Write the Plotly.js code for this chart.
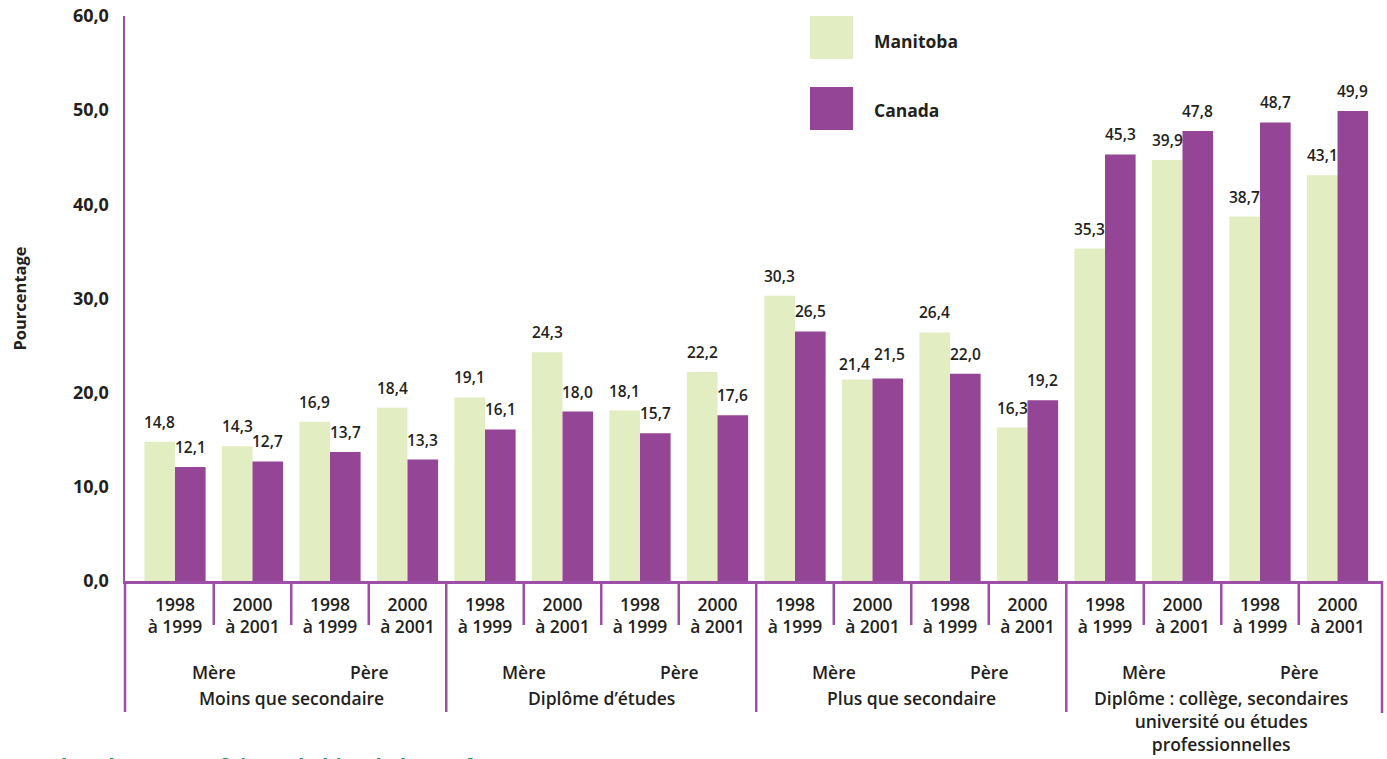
<!DOCTYPE html>
<html>
<head>
<meta charset="utf-8">
<script src="https://cdn.plot.ly/plotly-3.0.1.min.js"></script>
<style>html,body{margin:0;padding:0;background:#fff;}#chart{width:1387px;height:759px;}</style>
</head>
<body>
<div id="chart"></div>
<script>
// ---- data ----
const periods = ["1998<br>à 1999", "2000<br>à 2001", "1998<br>à 1999", "2000<br>à 2001",
                 "1998<br>à 1999", "2000<br>à 2001", "1998<br>à 1999", "2000<br>à 2001",
                 "1998<br>à 1999", "2000<br>à 2001", "1998<br>à 1999", "2000<br>à 2001",
                 "1998<br>à 1999", "2000<br>à 2001", "1998<br>à 1999", "2000<br>à 2001"];
const parents = ["Mère", "Père"];
const groups = ["Moins que secondaire", "Diplôme d’études", "Plus que secondaire",
                "Diplôme : collège, secondaires<br>université ou études<br>professionnelles"];
const manitoba = [14.8, 14.3, 16.9, 18.4, 19.5, 24.3, 18.1, 22.2, 30.3, 21.4, 26.4, 16.3, 35.3, 44.7, 38.7, 43.1];
const manitobaLabels = ["14,8", "14,3", "16,9", "18,4", "19,1", "24,3", "18,1", "22,2", "30,3", "21,4", "26,4", "16,3", "35,3", "39,9", "38,7", "43,1"];
const canada = [12.1, 12.7, 13.7, 12.9, 16.1, 18.0, 15.7, 17.6, 26.5, 21.5, 22.0, 19.2, 45.3, 47.8, 48.7, 49.9];
const canadaLabels = ["12,1", "12,7", "13,7", "13,3", "16,1", "18,0", "15,7", "17,6", "26,5", "21,5", "22,0", "19,2", "45,3", "47,8", "48,7", "49,9"];
const yTicks = [0, 10, 20, 30, 40, 50, 60];
const yTickText = ["0,0", "10,0", "20,0", "30,0", "40,0", "50,0", "60,0"];
const seriesNames = ["Manitoba", "Canada"];
const footText = "Nombre de parents faisant l’objet de l’enquête";

// ---- style ----
const GREEN = "#e3edc2", PURPLE = "#954595", LINE = "#9d4fa8", TXT = "#231f20";
const FONT = "Open Sans, sans-serif";
const X0 = -0.645, X1 = 15.574;
const BARGAP = 0.21;
const half = (1 - BARGAP) / 4;
const idx = periods.map((_, i) => i);
const px = v => (v - X0) / (X1 - X0);
const pyOf = p => (581 - p) / 565;

const traces = [
  {type: "bar", x: idx, y: manitoba, name: seriesNames[0], marker: {color: GREEN}, showlegend: false, hoverinfo: "skip"},
  {type: "bar", x: idx, y: canada, name: seriesNames[1], marker: {color: PURPLE}, showlegend: false, hoverinfo: "skip"}
];

const LBL = {family: FONT, size: 15.5, color: TXT, weight: 600};
const annotations = [];
idx.forEach(i => {
  // keep the two labels of a near-equal pair apart, as in the original
  const close = Math.abs(manitoba[i] - canada[i]) < 1;
  annotations.push({x: i - half, y: manitoba[i], xref: "x", yref: "y", text: manitobaLabels[i], showarrow: false,
    yanchor: "bottom", yshift: close ? 2 : 7, xshift: close ? -3 : 0, font: LBL});
  annotations.push({x: i + half, y: canada[i], xref: "x", yref: "y", text: canadaLabels[i], showarrow: false,
    yanchor: "bottom", yshift: close ? 12 : 7, xshift: close ? 2 : 0, font: LBL});
});
const CAT = {family: FONT, size: 17.5, color: TXT, weight: 600};
groups.forEach((g, k) => {
  annotations.push({x: 4 * k + 0.5, y: pyOf(672), xref: "x", yref: "paper", text: parents[0], showarrow: false,
    yanchor: "middle", font: CAT});
  annotations.push({x: 4 * k + 2.5, y: pyOf(672), xref: "x", yref: "paper", text: parents[1], showarrow: false,
    yanchor: "middle", font: CAT});
  annotations.push({x: 4 * k + 1.5, y: pyOf(684), xref: "x", yref: "paper", text: g, showarrow: false,
    yanchor: "top", align: "center", font: CAT});
});
// legend
const LEG = {family: FONT, size: 17.5, color: TXT, weight: 700};
annotations.push({x: (872 - 125) / 1257, y: pyOf(41), xref: "paper", yref: "paper", text: seriesNames[0],
  showarrow: false, xanchor: "left", yanchor: "middle", font: LEG});
annotations.push({x: (872 - 125) / 1257, y: pyOf(110), xref: "paper", yref: "paper", text: seriesNames[1],
  showarrow: false, xanchor: "left", yanchor: "middle", font: LEG});
// footer (cut off at the bottom edge, as in the original)
annotations.push({x: -117 / 1257, y: pyOf(750), xref: "paper", yref: "paper", text: footText, showarrow: false,
  xanchor: "left", yanchor: "top", font: {family: FONT, size: 21, color: "#00a65a", weight: 700}});

const shapes = [];
for (let k = 0; k < 15; k++) {
  const long = (k % 4 === 3);
  shapes.push({type: "line", xref: "paper", yref: "paper", x0: px(k + 0.5), x1: px(k + 0.5),
    y0: 0, y1: pyOf(long ? 712 : 625), line: {color: LINE, width: 2.5}});
}
shapes.push({type: "line", xref: "paper", yref: "paper", x0: 0, x1: 0, y0: 0, y1: pyOf(712), line: {color: LINE, width: 2.5}});
shapes.push({type: "line", xref: "paper", yref: "paper", x0: 1, x1: 1, y0: 0, y1: pyOf(713), line: {color: LINE, width: 2.5}});
// legend squares
shapes.push({type: "rect", xref: "paper", yref: "paper", x0: (810 - 125) / 1257, x1: (853 - 125) / 1257,
  y0: pyOf(59), y1: pyOf(16), fillcolor: GREEN, line: {width: 0}});
shapes.push({type: "rect", xref: "paper", yref: "paper", x0: (810 - 125) / 1257, x1: (853 - 125) / 1257,
  y0: pyOf(130), y1: pyOf(87), fillcolor: PURPLE, line: {width: 0}});

const layout = {
  width: 1387, height: 759,
  margin: {l: 125, r: 5, t: 16, b: 178},
  paper_bgcolor: "#ffffff", plot_bgcolor: "#ffffff",
  barmode: "group", bargap: BARGAP, bargroupgap: 0,
  showlegend: false,
  xaxis: {range: [X0, X1], tickmode: "array", tickvals: idx, ticktext: periods,
    showline: true, linecolor: LINE, linewidth: 2.5, showgrid: false, zeroline: false, ticks: "",
    ticklabelstandoff: 6,
    tickfont: {family: FONT, size: 17.5, color: TXT, weight: 600}, fixedrange: true},
  yaxis: {range: [0, 60], tickmode: "array", tickvals: yTicks, ticktext: yTickText,
    showline: true, linecolor: LINE, linewidth: 2.5, showgrid: false, zeroline: false, ticks: "",
    ticklabelstandoff: 10,
    tickfont: {family: FONT, size: 18, color: TXT, weight: 700},
    title: {text: "Pourcentage", standoff: 42, font: {family: FONT, size: 16.5, color: TXT, weight: 700}}, fixedrange: true},
  annotations: annotations,
  shapes: shapes,
  font: {family: FONT, color: TXT}
};

Plotly.newPlot("chart", traces, layout, {displayModeBar: false, staticPlot: true});
</script>
</body>
</html>
